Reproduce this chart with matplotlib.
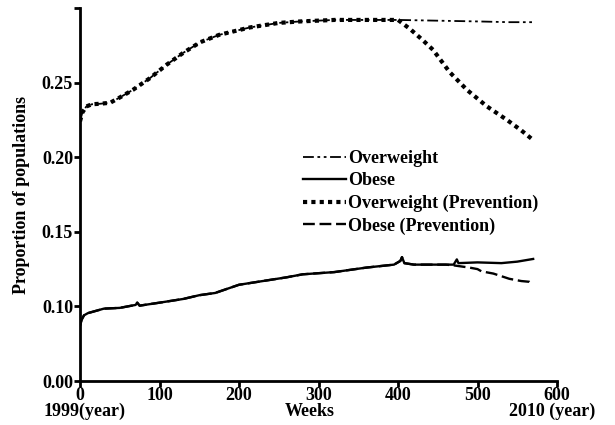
import numpy as np
import matplotlib.pyplot as plt

plt.rcParams['font.family'] = ['Liberation Serif', 'DejaVu Serif']

# overweight (no prevention)
ow_weeks = [0, 3, 8, 15, 25, 38, 50, 67, 88, 109, 130, 151, 175, 214, 250, 277,
            320, 360, 400, 450, 500, 540, 570]
ow_vals = [0.224, 0.230, 0.234, 0.2355, 0.2358, 0.2365, 0.240, 0.2453, 0.253, 0.262,
           0.270, 0.277, 0.282, 0.287, 0.290, 0.291, 0.292, 0.292, 0.292, 0.2915,
           0.291, 0.2905, 0.2905]

# overweight with prevention (follows baseline until week 400)
owp_weeks = [400, 415, 430, 444, 465, 487, 512, 537, 555, 570]
owp_vals = [0.292, 0.286, 0.279, 0.272, 0.257, 0.245, 0.234, 0.225, 0.218, 0.2115]

# obese (no prevention)
ob_weeks = [0, 2, 5, 10, 20, 30, 50, 70, 72, 75, 100, 130, 150, 170, 200, 230, 260,
            280, 320, 360, 395, 403, 405, 408, 420, 450, 460, 470, 474, 476, 500,
            530, 550, 570]
ob_vals = [0.087, 0.091, 0.094, 0.0955, 0.097, 0.0985, 0.099, 0.101, 0.1025, 0.1005,
           0.1025, 0.105, 0.1075, 0.109, 0.1145, 0.117, 0.1195, 0.1215, 0.123, 0.126,
           0.128, 0.1305, 0.133, 0.129, 0.128, 0.128, 0.128, 0.128, 0.1315, 0.129,
           0.1295, 0.129, 0.130, 0.1318]

# obese with prevention (follows baseline until week 460)
obp_weeks = [460, 470, 490, 500, 505, 520, 540, 555, 565, 570]
obp_vals = [0.128, 0.1275, 0.126, 0.125, 0.1235, 0.122, 0.1185, 0.117, 0.1165, 0.1145]

labels = ['Overweight', 'Obese', 'Overweight (Prevention)', 'Obese (Prevention)']

# prevention curves share the baseline before they split
i = ow_weeks.index(400)
owp_x = ow_weeks[:i] + owp_weeks
owp_y = ow_vals[:i] + owp_vals
j = ob_weeks.index(460)
obp_x = ob_weeks[:j] + obp_weeks
obp_y = ob_vals[:j] + obp_vals

fig = plt.figure(figsize=(6.15, 4.25), dpi=100)
ax = fig.add_axes([80/615, 1-381/425, 477/615, 373/425])

l1, = ax.plot(ow_weeks, ow_vals, color='black', lw=1.3, dashes=(6, 2, 1.5, 2, 1.5, 2))
l2, = ax.plot(ob_weeks, ob_vals, color='black', lw=1.7)
l3, = ax.plot(owp_x, owp_y, color='black', lw=3, dashes=(1, 1))
l4, = ax.plot(obp_x, obp_y, color='black', lw=1.7, dashes=(5, 2))

ax.set_xlim(0, 600)
ax.set_ylim(0.05, 0.30)
ax.set_xticks([0, 100, 200, 300, 400, 500, 600])
ax.set_yticks([0.05, 0.10, 0.15, 0.20, 0.25, 0.30])
ax.set_yticklabels(['0.00', '0.10', '0.15', '0.20', '0.25', ''])

for s in ['top', 'right']:
    ax.spines[s].set_visible(False)
for s in ['left', 'bottom']:
    ax.spines[s].set_linewidth(2)
ax.tick_params(direction='out', length=4, width=2, labelsize=13, pad=1)
ax.tick_params(axis='x', pad=0)
for t in ax.get_xticklabels() + ax.get_yticklabels():
    t.set_fontweight('bold')

# second row under the x ticks
row2 = 1 - 403/425
fig.text(85/615, row2, '1999(year)', ha='center', va='top', fontsize=13, fontweight='bold')
fig.text(310/615, row2, 'Weeks', ha='center', va='top', fontsize=13, fontweight='bold')
fig.text(552/615, row2, '2010 (year)', ha='center', va='top', fontsize=13, fontweight='bold')
fig.text(22/615, 1-195/425, 'Proportion of populations', rotation=90, ha='center',
         va='center', fontsize=13, fontweight='bold')

ax.legend([l1, l2, l3, l4], labels, loc='upper left', bbox_to_anchor=(303/615, 1-150/425),
          bbox_transform=fig.transFigure, frameon=False, borderpad=0, borderaxespad=0,
          handlelength=2.4, handletextpad=0.1, labelspacing=0.3,
          prop={'size': 13, 'weight': 'bold'})

fig.savefig('out.png', dpi=100)
